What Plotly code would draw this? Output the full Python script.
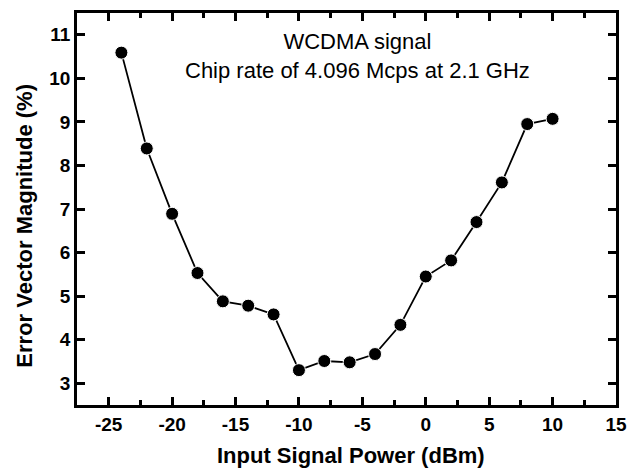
import plotly.graph_objects as go

# Input power sweep (dBm) and measured EVM (%)
input_power = [-24, -22, -20, -18, -16, -14, -12, -10, -8, -6, -4, -2, 0, 2, 4, 6, 8, 10]
evm = [10.59, 8.39, 6.89, 5.53, 4.88, 4.78, 4.58, 3.30, 3.51, 3.48, 3.67, 4.34,
       5.45, 5.82, 6.70, 7.61, 8.95, 9.07]

x_ticks = [-25, -20, -15, -10, -5, 0, 5, 10, 15]
y_ticks = [3, 4, 5, 6, 7, 8, 9, 10, 11]

x_title = "Input Signal Power (dBm)"
y_title = "Error Vector Magnitude (%)"
note_lines = ["WCDMA signal", "Chip rate of 4.096 Mcps at 2.1 GHz"]

FONT = "Arial, Liberation Sans, sans-serif"


def tick_text(values):
    # plain ASCII hyphen for negatives, bold labels
    return ["<b>%s</b>" % str(v) for v in values]


fig = go.Figure()
fig.add_trace(go.Scatter(
    x=input_power, y=evm,
    mode="lines+markers",
    line=dict(color="black", width=1.8),
    marker=dict(color="black", size=13, line=dict(color="white", width=1)),
    showlegend=False,
))

axis_common = dict(
    showgrid=False, zeroline=False,
    showline=True, linecolor="black", linewidth=2.5,
    mirror="allticks",
    ticks="inside", ticklen=8, tickwidth=3, tickcolor="black",
    tickfont=dict(family=FONT, size=19, color="black"),
)

fig.update_xaxes(
    range=[-27.5, 15], tickmode="array", tickvals=x_ticks, ticktext=tick_text(x_ticks),
    minor=dict(tickvals=[-22.5, -17.5, -12.5, -7.5, -2.5, 2.5, 7.5, 12.5],
               ticks="inside", ticklen=5, tickwidth=3, tickcolor="black"),
    **axis_common,
)
fig.update_yaxes(
    range=[2.5, 11.5], tickmode="array", tickvals=y_ticks, ticktext=tick_text(y_ticks),
    **axis_common,
)

title_font = dict(family=FONT, size=22, color="black")
fig.add_annotation(
    xref="paper", yref="paper", x=0.508, y=-0.128,
    xanchor="center", yanchor="middle",
    text="<b>%s</b>" % x_title, showarrow=False, font=title_font,
)
fig.add_annotation(
    xref="paper", yref="paper", x=-0.098, y=0.458,
    xanchor="center", yanchor="middle", textangle=-90,
    text="<b>%s</b>" % y_title, showarrow=False, font=title_font,
)

fig.add_annotation(
    xref="paper", yref="paper", x=0.521, y=0.965,
    xanchor="center", yanchor="top",
    text="<br>".join(note_lines), showarrow=False,
    font=dict(family=FONT, size=22, color="black"),
)

fig.update_layout(
    width=639, height=475,
    margin=dict(l=77, r=23, t=10, b=70),
    paper_bgcolor="white", plot_bgcolor="white",
)

fig.write_html("out.html")
